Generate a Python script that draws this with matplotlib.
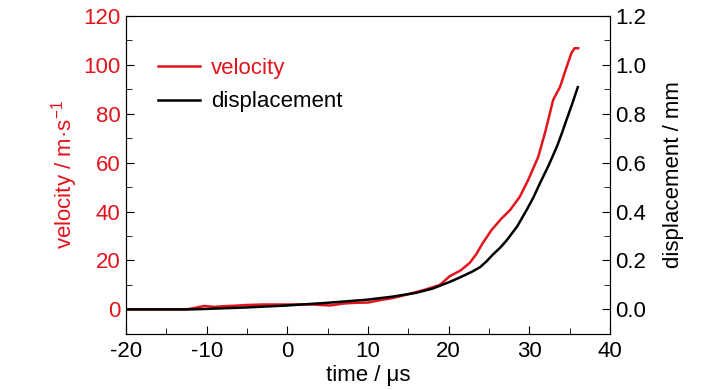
import matplotlib
matplotlib.use('Agg')
import matplotlib.pyplot as plt
from matplotlib.ticker import MultipleLocator

plt.rcParams['font.family'] = ['Liberation Sans', 'DejaVu Sans']
plt.rcParams['mathtext.default'] = 'regular'
plt.rcParams['axes.unicode_minus'] = False

RED = '#e3141b'

# velocity trace (m/s) vs time (us)
time_v = [-20, -12.5, -11.5, -10.3, -9, -8, -6.5, -5, -3, 0, 3, 5.3, 7, 8.5, 10,
          11.5, 13, 15, 17, 18.9, 20.1, 21.5, 22.6, 23.4, 24.2, 25.3, 26.5, 27.6,
          28.8, 29.85, 31.1, 32.0, 32.95, 33.8, 34.5, 35.2, 35.6, 36.05]
velocity = [0, 0, 0.6, 1.4, 1.0, 1.3, 1.5, 1.8, 2.0, 2.0, 2.0, 1.6, 2.4, 2.7, 2.8,
            3.8, 4.6, 6.2, 8.0, 10.0, 13.5, 16.0, 19.0, 22.5, 27.0, 32.4, 37.0, 40.6,
            46.0, 52.9, 62.4, 73.0, 85.7, 91.0, 98.0, 104.8, 106.8, 106.8]

# displacement trace (mm) vs time (us)
time_d = [-20, -12, -10, -5, 0, 5, 10, 13, 16, 18, 20.1, 21, 22, 23, 23.9, 24.7,
          25.5, 26.4, 27.2, 28.5, 29.65, 30.5, 31.3, 32.4, 33.4, 34.0, 34.6, 35.3, 36.0]
displacement = [0, 0, 0.002, 0.008, 0.016, 0.027, 0.04, 0.052, 0.068, 0.085, 0.112,
                0.125, 0.14, 0.156, 0.173, 0.197, 0.225, 0.253, 0.283, 0.34, 0.406,
                0.458, 0.515, 0.59, 0.665, 0.718, 0.775, 0.84, 0.909]

fig, ax = plt.subplots(figsize=(7.28, 3.9), dpi=100)
fig.subplots_adjust(left=0.173, right=0.838, top=0.959, bottom=0.144)
ax2 = ax.twinx()

l1, = ax.plot(time_v, velocity, color=RED, lw=1.8, label='velocity')
l2, = ax2.plot(time_d, displacement, color='black', lw=1.8, label='displacement')

ax.set_xlim(-20, 40)
ax.set_ylim(-10, 120)
ax2.set_ylim(-0.1, 1.2)

ax.xaxis.set_major_locator(MultipleLocator(10))
ax.xaxis.set_minor_locator(MultipleLocator(5))
ax.yaxis.set_major_locator(MultipleLocator(20))
ax.yaxis.set_minor_locator(MultipleLocator(10))
ax2.yaxis.set_major_locator(MultipleLocator(0.2))
ax2.yaxis.set_minor_locator(MultipleLocator(0.1))
ax2.yaxis.set_major_formatter(plt.FormatStrFormatter('%.1f'))

fs = 16
ax.tick_params(axis='both', which='both', direction='in', labelsize=fs, top=False)
ax.tick_params(axis='both', which='major', length=6)
ax.tick_params(axis='both', which='minor', length=4)
ax.tick_params(axis='x', pad=5)
ax.tick_params(axis='y', labelcolor=RED, pad=4)
ax2.tick_params(axis='y', which='both', direction='in', labelsize=fs, pad=4)
ax2.tick_params(axis='y', which='major', length=6)
ax2.tick_params(axis='y', which='minor', length=4)

ax.set_xlabel('time / μs', fontsize=fs, labelpad=2)
ax.set_ylabel('velocity / m·s$^{-1}$', fontsize=fs, color=RED, labelpad=2)
ax2.set_ylabel('displacement / mm', fontsize=fs, labelpad=12)

ax.legend(handles=[l1, l2], loc='upper left', bbox_to_anchor=(0.025, 0.93),
          frameon=False, fontsize=fs, handlelength=1.9, handletextpad=0.5,
          labelspacing=0.55, labelcolor=[RED, 'black'])

fig.savefig('out.png', dpi=100)
